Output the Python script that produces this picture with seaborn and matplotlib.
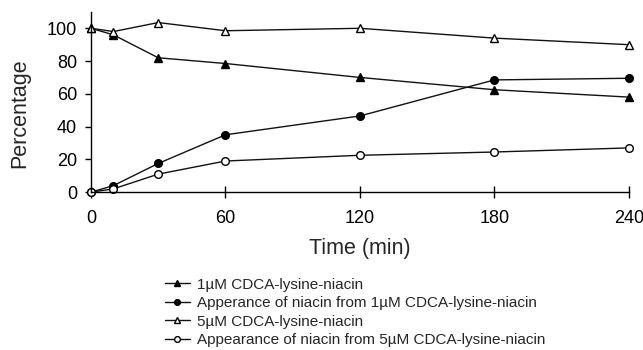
import pandas as pd
import numpy as np
import seaborn as sns
import matplotlib.pyplot as plt

# time points (min) and the four series (%)
time = [0, 10, 30, 60, 120, 180, 240]
cdca_1um = [100, 96, 82, 78.5, 70, 62.5, 58]
niacin_1um = [0, 4, 17.5, 35, 46.5, 68.5, 69.5]
cdca_5um = [100, 98, 103.5, 98.5, 100, 94, 90]
niacin_5um = [0, 2, 11, 19, 22.5, 24.5, 27]

labels = ['1µM CDCA-lysine-niacin',
          'Apperance of niacin from 1µM CDCA-lysine-niacin',
          '5µM CDCA-lysine-niacin',
          'Appearance of niacin from 5µM CDCA-lysine-niacin']

sns.set_style('white')
plt.rcParams['font.family'] = ['Liberation Sans', 'DejaVu Sans']

fig = plt.figure(figsize=(6.43, 3.5), dpi=100)
ax = fig.add_axes([0.1415, 0.451, 0.8365, 0.515])

series = [
    (cdca_1um, '^', 'black'),
    (niacin_1um, 'o', 'black'),
    (cdca_5um, '^', 'white'),
    (niacin_5um, 'o', 'white'),
]
for (vals, mk, face), lab in zip(series, labels):
    df = pd.DataFrame({'Time': time, 'Pct': vals})
    sns.lineplot(data=df, x='Time', y='Pct', ax=ax, color='#111111', lw=1.0,
                 marker=mk, markersize=5.5, markerfacecolor=face,
                 markeredgecolor='black', markeredgewidth=1, label=lab,
                 legend=False, clip_on=False)

ax.set_xlim(0, 240)
ax.set_ylim(0, 110)
ax.set_xticks([0, 60, 120, 180, 240])
ax.set_yticks([0, 20, 40, 60, 80, 100])
ax.tick_params(axis='x', direction='inout', length=8, width=1, labelsize=13,
               colors='black', bottom=True, pad=9)
ax.tick_params(axis='y', direction='out', length=4, width=1, labelsize=13,
               colors='black', left=True, pad=6)
for s in ['top', 'right']:
    ax.spines[s].set_visible(False)
for s in ['left', 'bottom']:
    ax.spines[s].set_color('black')
    ax.spines[s].set_linewidth(1)
ax.set_xlabel('Time (min)', fontsize=15.5, labelpad=8)
ax.set_ylabel('Percentage', fontsize=15.5)
ax.yaxis.set_label_coords(-0.113, 0.44)

handles, labs = ax.get_legend_handles_labels()
fig.legend(handles, labs, loc='upper left', bbox_to_anchor=(0.257, 0.207),
           frameon=False, fontsize=11, handlelength=1.6, handletextpad=0.45,
           labelspacing=0.3, borderaxespad=0, borderpad=0, markerscale=0.75)

fig.savefig('out.png', dpi=100)
